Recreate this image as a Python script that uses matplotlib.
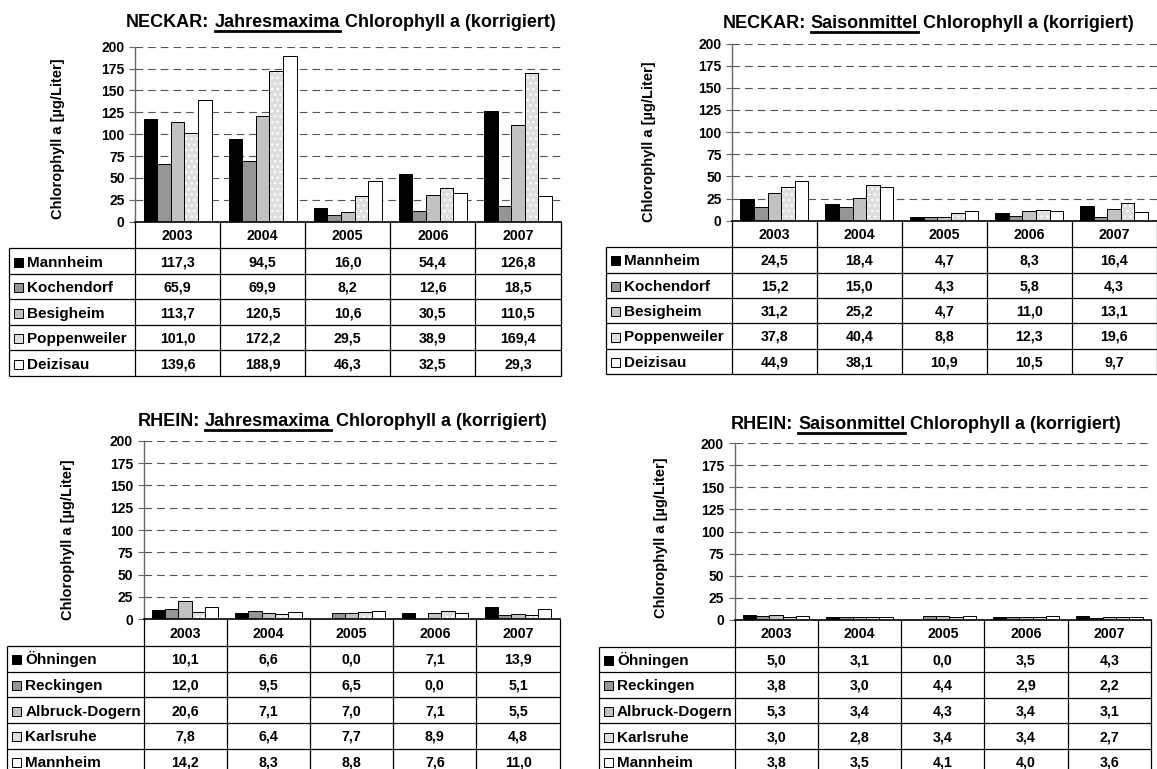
import matplotlib
matplotlib.use("Agg")
import matplotlib.pyplot as plt
from matplotlib.patches import Rectangle
from matplotlib.lines import Line2D
import numpy as np

plt.rcParams["font.family"] = ["Liberation Sans", "DejaVu Sans"]
plt.rcParams["font.weight"] = "bold"
plt.rcParams["lines.scale_dashes"] = False

# ---- data ----
years = ["2003", "2004", "2005", "2006", "2007"]

neckar_sites = ["Mannheim", "Kochendorf", "Besigheim", "Poppenweiler", "Deizisau"]
rhein_sites = ["Öhningen", "Reckingen", "Albruck-Dogern", "Karlsruhe", "Mannheim"]

neckar_max = [
    [117.3, 94.5, 16.0, 54.4, 126.8],
    [65.9, 69.9, 8.2, 12.6, 18.5],
    [113.7, 120.5, 10.6, 30.5, 110.5],
    [101.0, 172.2, 29.5, 38.9, 169.4],
    [139.6, 188.9, 46.3, 32.5, 29.3],
]
neckar_mean = [
    [24.5, 18.4, 4.7, 8.3, 16.4],
    [15.2, 15.0, 4.3, 5.8, 4.3],
    [31.2, 25.2, 4.7, 11.0, 13.1],
    [37.8, 40.4, 8.8, 12.3, 19.6],
    [44.9, 38.1, 10.9, 10.5, 9.7],
]
rhein_max = [
    [10.1, 6.6, 0.0, 7.1, 13.9],
    [12.0, 9.5, 6.5, 0.0, 5.1],
    [20.6, 7.1, 7.0, 7.1, 5.5],
    [7.8, 6.4, 7.7, 8.9, 4.8],
    [14.2, 8.3, 8.8, 7.6, 11.0],
]
rhein_mean = [
    [5.0, 3.1, 0.0, 3.5, 4.3],
    [3.8, 3.0, 4.4, 2.9, 2.2],
    [5.3, 3.4, 4.3, 3.4, 3.1],
    [3.0, 2.8, 3.4, 3.4, 2.7],
    [3.8, 3.5, 4.1, 4.0, 3.6],
]

fill_colors = ["#000000", "#959595", "#c2c2c2", "#dedede", "#ffffff"]
dotted_series = 3

W, H = 1157, 769
fig = plt.figure(figsize=(W / 100, H / 100), dpi=100)
renderer = fig.canvas.get_renderer()


def px_rect(x0, y0, x1, y1):
    return [x0 / W, 1 - y1 / H, (x1 - x0) / W, (y1 - y0) / H]


def fmt(v):
    return f"{v:.1f}".replace(".", ",")


def add_title(cx, base_y, river, word, rest, fs=13):
    fs_px = fs * 100 / 72
    sp = 0.278 * fs_px
    texts = [fig.text(0, 0, s, fontsize=fs, ha="left", va="baseline")
             for s in (river + ":", word, rest)]
    widths = [t.get_window_extent(renderer).width for t in texts]
    total = sum(widths) + 2 * sp
    x = cx - total / 2
    starts = []
    for t, w in zip(texts, widths):
        t.set_position((x / W, 1 - base_y / H))
        starts.append(x)
        x += w + sp
    y_ul = 1 - (base_y + 4) / H
    fig.add_artist(Line2D([starts[1] / W, (starts[1] + widths[1]) / W], [y_ul, y_ul],
                          color="black", lw=2.0, transform=fig.transFigure))


def draw_panel(box, table_left, header_h, row_h, sites, values, title, ylabel_xy):
    left, top, right, bottom = box
    ax = fig.add_axes(px_rect(left, top, right, bottom))
    x = np.arange(len(years))
    n = len(sites)
    bw = 0.8 / n
    for i, vals in enumerate(values):
        pos = x - 0.4 + bw * (i + 0.5)
        ax.bar(pos, vals, bw, color=fill_colors[i], edgecolor="black", linewidth=0.7, zorder=3)
        if i == dotted_series:
            ax.bar(pos, vals, bw, fill=False, hatch="...", edgecolor="white", linewidth=0, zorder=3.5)
            ax.bar(pos, vals, bw, fill=False, edgecolor="black", linewidth=0.7, zorder=4)
    ax.set_xlim(-0.5, len(years) - 0.5)
    ax.set_ylim(0, 200)
    ax.set_yticks(range(0, 201, 25))
    ax.set_xticks([])
    ax.tick_params(axis="y", length=4, width=0.8, color="#666666", pad=3.5, labelsize=10)
    for lab in ax.get_yticklabels():
        lab.set_fontweight("bold")
    ax.yaxis.grid(True, color="#555555", lw=0.8, linestyle=(0, (5.5, 3.6)))
    ax.set_axisbelow(True)
    for s in ("top", "right"):
        ax.spines[s].set_visible(False)
    ax.spines["left"].set_color("#666666")
    ax.spines["left"].set_linewidth(1.0)
    ax.spines["bottom"].set_color("black")
    ax.spines["bottom"].set_linewidth(1.2)
    ax.spines["bottom"].set_zorder(5)
    ax.patch.set_alpha(0)

    fig.text(ylabel_xy[0] / W, 1 - ylabel_xy[1] / H, "Chlorophyll a [µg/Liter]",
             rotation=90, ha="center", va="center", fontsize=10.5)

    add_title(*title)

    # data table below the chart
    col_w = (right - left) / len(years)
    lab_w = (left - table_left) / col_w
    height = header_h + row_h * n
    tax = fig.add_axes(px_rect(table_left, bottom, right, bottom + height))
    xl, xr = -0.5 - lab_w, len(years) - 0.5
    tax.set_xlim(xl, xr)
    tax.set_ylim(height, 0)
    tax.axis("off")
    cap = 0.716 * 10 * 100 / 72
    edges = header_h + row_h * np.arange(n + 1)
    tax.hlines(edges, xl, xr, color="black", lw=0.9, clip_on=False)
    tax.vlines(np.arange(len(years) + 1) - 0.5, 0, height, color="black", lw=0.9, clip_on=False)
    tax.vlines([xl], header_h, height, color="black", lw=0.9, clip_on=False)
    for j, yr in enumerate(years):
        tax.text(j, header_h / 2 + cap / 2, yr, ha="center", va="baseline", fontsize=10.2)
    for i, (site, vals) in enumerate(zip(sites, values)):
        cy = header_h + row_h * (i + 0.5)
        tax.add_patch(Rectangle((xl + 4.5 / col_w, cy - 3.5), 9 / col_w, 9,
                                facecolor=fill_colors[i], edgecolor="black", lw=0.7, clip_on=False))
        tax.text(xl + 18 / col_w, cy + cap / 2 + 0.5, site, ha="left", va="baseline", fontsize=11)
        for j, v in enumerate(vals):
            tax.text(j, cy + cap / 2, fmt(v), ha="center", va="baseline", fontsize=10.2)


rest = "Chlorophyll a (korrigiert)"
draw_panel((135, 46.7, 560.5, 221.7), 9, 26.6, 25.5, neckar_sites, neckar_max,
           (341, 27.3, "NECKAR", "Jahresmaxima", rest), (58, 138.5))
draw_panel((732, 43.5, 1156.5, 220.7), 606, 26.4, 25.4, neckar_sites, neckar_mean,
           (928, 27.7, "NECKAR", "Saisonmittel", rest), (649, 141.5))
draw_panel((143.5, 440.7, 559.7, 619.3), 7.4, 26.7, 25.7, rhein_sites, rhein_max,
           (342, 426, "RHEIN", "Jahresmaxima", rest), (68.3, 540))
draw_panel((734.5, 443.3, 1151, 619.8), 599, 26.7, 25.6, rhein_sites, rhein_mean,
           (926, 429.3, "RHEIN", "Saisonmittel", rest), (661.4, 537.5))

fig.savefig("out.png", dpi=100, facecolor="white")
